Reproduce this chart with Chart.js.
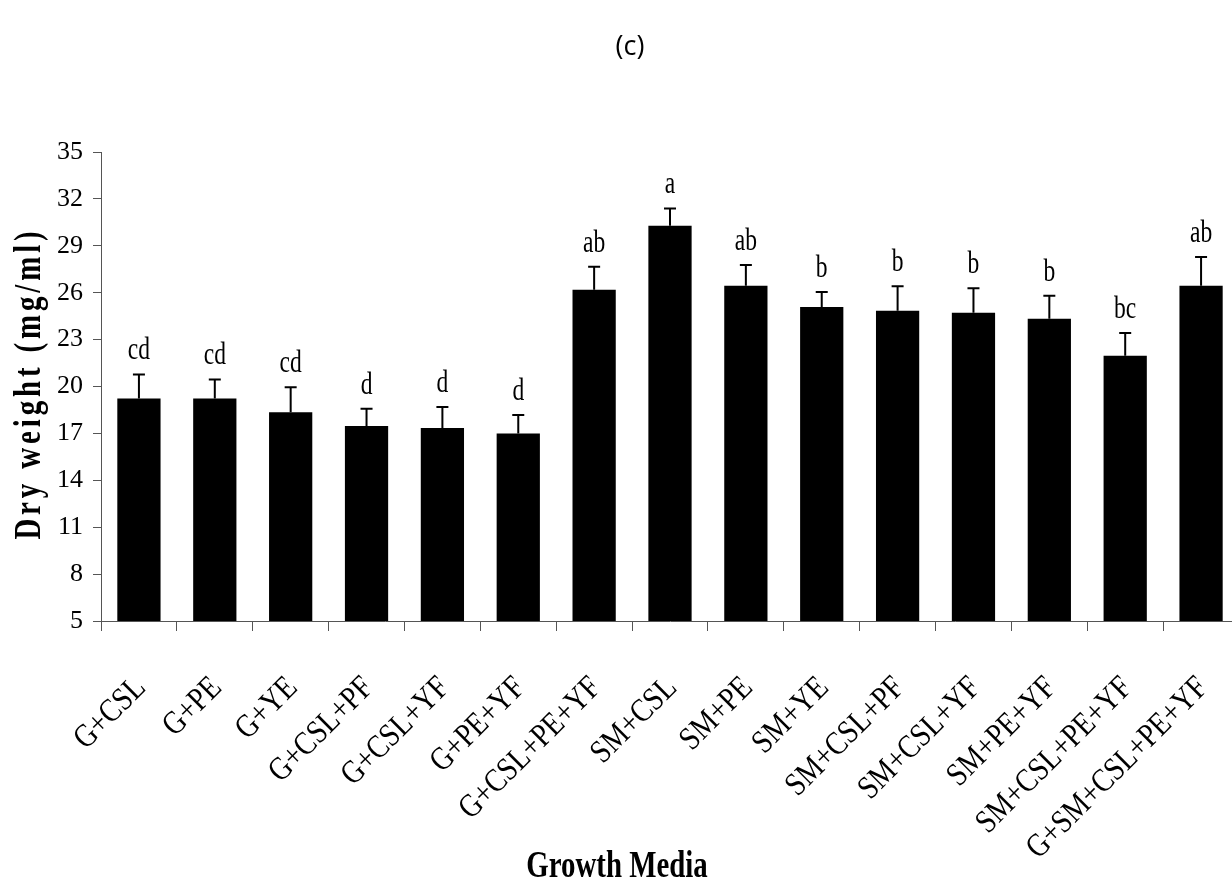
<!DOCTYPE html>
<html>
<head>
<meta charset="utf-8">
<script src="https://cdn.jsdelivr.net/npm/chart.js@4.4.1/dist/chart.umd.min.js"></script>
<style>
html, body { margin: 0; padding: 0; background: #fff; overflow: hidden; }
#wrap { width: 1245px; height: 879px; }
</style>
</head>
<body>
<div id="wrap"><canvas id="chart"></canvas></div>
<script>
const media = ['G+CSL', 'G+PE', 'G+YE', 'G+CSL+PF', 'G+CSL+YF', 'G+PE+YF', 'G+CSL+PE+YF',
    'SM+CSL', 'SM+PE', 'SM+YE', 'SM+CSL+PF', 'SM+CSL+YF', 'SM+PE+YF', 'SM+CSL+PE+YF', 'G+SM+CSL+PE+YF'];
const dryWeight = [19.23, 19.23, 18.35, 17.48, 17.35, 16.99, 26.19, 30.28, 26.44, 25.08, 24.84, 24.71, 24.33, 21.96, 26.44];
const errors = [1.54, 1.22, 1.6, 1.1, 1.34, 1.19, 1.47, 1.11, 1.33, 0.96, 1.58, 1.58, 1.47, 1.47, 1.84];
const groups = ['cd', 'cd', 'cd', 'd', 'd', 'd', 'ab', 'a', 'ab', 'b', 'b', 'b', 'b', 'bc', 'ab'];
const yTicks = [5, 8, 11, 14, 17, 20, 23, 26, 29, 32, 35];

const serif = "'Liberation Serif', 'Times New Roman', serif";

// text in the picture is narrow, so squeeze it along its own direction
function drawNarrow(ctx, text, x, y, font, squeeze, angle, opts) {
    opts = opts || {};
    ctx.save();
    ctx.translate(x, y);
    if (angle) ctx.rotate(angle);
    ctx.scale(squeeze, 1);
    ctx.font = font;
    if (opts.spacing) ctx.letterSpacing = opts.spacing;
    ctx.fillStyle = '#000';
    ctx.textAlign = opts.align || 'center';
    ctx.textBaseline = opts.baseline || 'alphabetic';
    ctx.fillText(text, 0, 0);
    ctx.restore();
}

const errorBars = {
    id: 'errorBars',
    afterDatasetsDraw(chart) {
        const ctx = chart.ctx;
        const y = chart.scales.y;
        const meta = chart.getDatasetMeta(0);
        ctx.save();
        ctx.strokeStyle = '#000';
        ctx.lineWidth = 2;
        meta.data.forEach((bar, i) => {
            const top = y.getPixelForValue(dryWeight[i]);
            const hi = y.getPixelForValue(dryWeight[i] + errors[i]);
            ctx.beginPath();
            ctx.moveTo(bar.x, top);
            ctx.lineTo(bar.x, hi);
            ctx.moveTo(bar.x - 6, hi);
            ctx.lineTo(bar.x + 6, hi);
            ctx.stroke();
            drawNarrow(ctx, groups[i], bar.x, hi - 15, '31px ' + serif, 0.76);
        });
        ctx.restore();
    },
    afterDraw(chart) {
        const ctx = chart.ctx;
        const area = chart.chartArea;
        const x = chart.scales.x;
        // slanted category names, ending under each bar
        x.ticks.forEach((t, i) => {
            const px = x.getPixelForTick(i) + 2;
            drawNarrow(ctx, x.getLabelForValue(t.value), px, area.bottom + 62, '33px ' + serif, 0.84,
                -Math.PI / 4, { align: 'right', baseline: 'middle' });
        });
        drawNarrow(ctx, '(c)', 630, 55, "27px 'Open Sans', sans-serif", 1);
        drawNarrow(ctx, 'Growth Media', 617, 877, 'bold 37px ' + serif, 0.78);
        drawNarrow(ctx, 'Dry weight (mg/ml)', 40, (area.top + area.bottom) / 2 - 3, 'bold 37px ' + serif, 0.78,
            -Math.PI / 2, { spacing: '5px' });
    }
};

new Chart(document.getElementById('chart'), {
    type: 'bar',
    data: {
        labels: media,
        datasets: [{
            label: 'Dry weight',
            data: dryWeight,
            backgroundColor: '#000',
            borderWidth: 0,
            barPercentage: 0.57,
            categoryPercentage: 1
        }]
    },
    options: {
        responsive: true,
        maintainAspectRatio: false,
        animation: false,
        layout: { padding: { left: 0, top: 152, right: 6, bottom: 8 } },
        plugins: { legend: { display: false }, tooltip: { enabled: false } },
        scales: {
            x: {
                grid: { drawOnChartArea: false, offset: true, tickLength: 10, color: '#555' },
                border: { color: '#555', width: 1 },
                ticks: { display: false },
                afterFit(scale) { scale.height = 250; }
            },
            y: {
                min: 5, max: 35,
                afterBuildTicks(scale) { scale.ticks = yTicks.map(v => ({ value: v })); },
                grid: { drawOnChartArea: false, tickLength: 8, color: '#555' },
                border: { color: '#555', width: 1 },
                ticks: { padding: 10, color: '#000', font: { family: serif, size: 26 } },
                afterFit(scale) { scale.width = 101; }
            }
        }
    },
    plugins: [errorBars]
});
</script>
</body>
</html>
